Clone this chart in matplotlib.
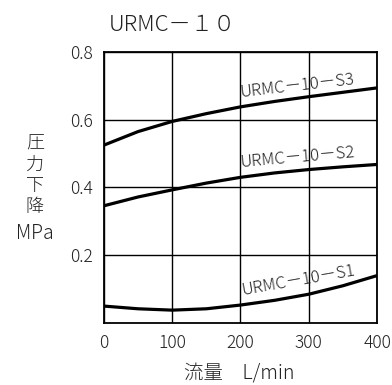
import numpy as np
import matplotlib
matplotlib.use("Agg")
import matplotlib.pyplot as plt

plt.rcParams['font.family'] = ['Noto Sans CJK JP', 'DejaVu Sans']

# flow (L/min) and pressure drop (MPa)
flow = [0, 50, 100, 150, 200, 250, 300, 350, 400]
s3 = [0.525, 0.565, 0.595, 0.618, 0.638, 0.654, 0.668, 0.681, 0.694]
s2 = [0.346, 0.372, 0.393, 0.413, 0.430, 0.443, 0.453, 0.461, 0.468]
s1 = [0.050, 0.042, 0.038, 0.042, 0.053, 0.067, 0.085, 0.110, 0.140]
series_names = ['URMC－10－S3', 'URMC－10－S2', 'URMC－10－S1']
x_ticks = [0, 100, 200, 300, 400]
y_ticks = [0.2, 0.4, 0.6, 0.8]
y_tick_labels = ['0.2', '0.4', '0.6', '0.8']

fig = plt.figure(figsize=(3.92, 3.85), dpi=100)
ax = fig.add_axes([0.265, 0.161, 0.697, 0.704])
txt = '#222222'
fw = 'light'

for ys in (s3, s2, s1):
    ax.plot(flow, ys, color='black', lw=2.3, solid_capstyle='butt')

ax.set_xlim(0, 400)
ax.set_ylim(0, 0.8)
ax.set_xticks(x_ticks)
ax.set_yticks(y_ticks)
ax.set_yticklabels(y_tick_labels)
ax.tick_params(length=0, labelsize=12.5, labelcolor=txt, pad=8)
for lab in ax.get_xticklabels() + ax.get_yticklabels():
    lab.set_fontweight(fw)
ax.grid(True, color='black', lw=1.0)
for sp in ax.spines.values():
    sp.set_linewidth(1.3)

# curve labels
ax.text(200, 0.668, series_names[0], rotation=6.5, fontsize=12, color=txt, fontweight=fw,
        ha='left', va='baseline', rotation_mode='anchor')
ax.text(200, 0.460, series_names[1], rotation=5, fontsize=12, color=txt, fontweight=fw,
        ha='left', va='baseline', rotation_mode='anchor')
ax.text(203, 0.082, series_names[2], rotation=10, fontsize=12, color=txt, fontweight=fw,
        ha='left', va='baseline', rotation_mode='anchor')

fig.text(0.44, 0.935, 'URMC－１０', ha='center', va='center', fontsize=16,
         color=txt, fontweight=fw)
fig.text(0.089, 0.545, '圧\n力\n下\n降', ha='center', va='center', fontsize=13,
         color=txt, linespacing=1.22, fontweight=fw)
fig.text(0.089, 0.393, 'MPa', ha='center', va='center', fontsize=14, color=txt,
         fontweight=fw)
fig.text(0.61, 0.028, '流量　L/min', ha='center', va='center', fontsize=14, color=txt,
         fontweight=fw)

fig.savefig('out.png', dpi=100)
